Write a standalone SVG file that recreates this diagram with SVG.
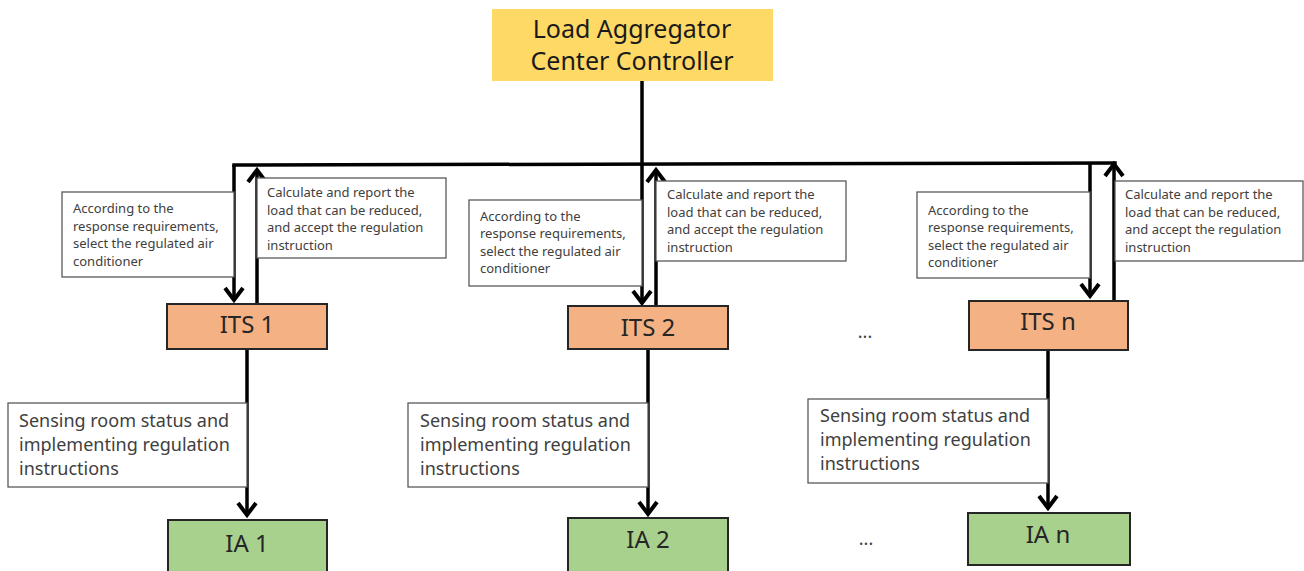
<svg xmlns="http://www.w3.org/2000/svg" width="1304" height="571" viewBox="0 0 1304 571">
<style>
.lbl{fill:#fff;stroke:#595959;stroke-width:1.3}
.its{fill:#F4B183;stroke:#262626;stroke-width:2}
.ia{fill:#A9D18E;stroke:#262626;stroke-width:2}
.st{font-family:"Noto Sans","Open Sans",sans-serif;font-size:13px;fill:#404040}
.bt{font-family:"Noto Sans","Open Sans",sans-serif;font-size:18px;fill:#404040}
.nt{font-family:"Noto Sans","Open Sans",sans-serif;font-size:24px;fill:#262626;text-anchor:middle}
.ct{font-family:"Noto Sans","Open Sans",sans-serif;font-size:25px;fill:#1a1a1a;text-anchor:middle}
.ln{fill:none;stroke:#000;stroke-width:3.5}
.ar{marker-end:url(#ah)}
</style>
<defs>
<marker id="ah" markerUnits="userSpaceOnUse" markerWidth="30" markerHeight="30" viewBox="-20 -15 30 30" refX="0" refY="0" orient="auto">
<path d="M -12 -9 L 0 0 L -12 9" fill="none" stroke="#000" stroke-width="4"/>
</marker>
</defs>
<rect width="1304" height="571" fill="#fff"/>

<g id="controller">
<rect x="492" y="9" width="281" height="72" fill="#FFD966"/>
<text class="ct" x="632" y="38">Load Aggregator</text>
<text class="ct" x="632" y="70">Center Controller</text>
</g>

<g id="connectors">
<path class="ln" d="M 234 165 L 1115 163" stroke-linecap="square"/>
<path class="ln" d="M 642 81 V 165"/>
<path class="ln ar" d="M 234 165 V 300"/>
<path class="ln ar" d="M 642 165 V 303"/>
<path class="ln ar" d="M 1090 163.5 V 296"/>
<path class="ln ar" d="M 257 304 V 170"/>
<path class="ln ar" d="M 656 307 V 170"/>
<path class="ln ar" d="M 1114 301 V 164"/>
<path class="ln ar" d="M 247 349 V 515"/>
<path class="ln ar" d="M 648 349 V 514"/>
<path class="ln ar" d="M 1048 350 V 508"/>
</g>

<g id="label-select-1">
<rect class="lbl" x="62" y="192" width="172" height="85"/>
<text class="st" x="73" y="213">According to the</text>
<text class="st" x="73" y="230.5">response requirements,</text>
<text class="st" x="73" y="248">select the regulated air</text>
<text class="st" x="73" y="265.5">conditioner</text>
</g>
<g id="label-report-1">
<rect class="lbl" x="257" y="178" width="189" height="80"/>
<text class="st" x="267" y="197">Calculate and report the</text>
<text class="st" x="267" y="214.5">load that can be reduced,</text>
<text class="st" x="267" y="232">and accept the regulation</text>
<text class="st" x="267" y="249.5">instruction</text>
</g>
<g id="label-select-2">
<rect class="lbl" x="469" y="200" width="173" height="86"/>
<text class="st" x="480" y="220.5">According to the</text>
<text class="st" x="480" y="238">response requirements,</text>
<text class="st" x="480" y="255.5">select the regulated air</text>
<text class="st" x="480" y="273">conditioner</text>
</g>
<g id="label-report-2">
<rect class="lbl" x="656" y="181" width="190" height="80"/>
<text class="st" x="667" y="199">Calculate and report the</text>
<text class="st" x="667" y="216.5">load that can be reduced,</text>
<text class="st" x="667" y="234">and accept the regulation</text>
<text class="st" x="667" y="251.5">instruction</text>
</g>
<g id="label-select-n">
<rect class="lbl" x="917" y="192" width="173" height="86"/>
<text class="st" x="928" y="214.5">According to the</text>
<text class="st" x="928" y="232">response requirements,</text>
<text class="st" x="928" y="249.5">select the regulated air</text>
<text class="st" x="928" y="267">conditioner</text>
</g>
<g id="label-report-n">
<rect class="lbl" x="1115" y="181" width="188" height="80"/>
<text class="st" x="1125" y="199">Calculate and report the</text>
<text class="st" x="1125" y="216.5">load that can be reduced,</text>
<text class="st" x="1125" y="234">and accept the regulation</text>
<text class="st" x="1125" y="251.5">instruction</text>
</g>

<g id="its-1">
<rect class="its" x="167" y="304" width="160" height="45"/>
<text class="nt" x="247" y="333">ITS 1</text>
</g>
<g id="its-2">
<rect class="its" x="568" y="306" width="160" height="43"/>
<text class="nt" x="648" y="336">ITS 2</text>
</g>
<g id="its-n">
<rect class="its" x="969" y="301" width="159" height="49"/>
<text class="nt" x="1048" y="330">ITS n</text>
</g>
<g id="ellipsis-its">
<text class="bt" x="865" y="338" text-anchor="middle" fill="#262626">...</text>
</g>

<g id="label-sense-1">
<rect class="lbl" x="8" y="403" width="239" height="84"/>
<text class="bt" x="19" y="427">Sensing room status and</text>
<text class="bt" x="19" y="451">implementing regulation</text>
<text class="bt" x="19" y="475">instructions</text>
</g>
<g id="label-sense-2">
<rect class="lbl" x="408" y="403" width="240" height="84"/>
<text class="bt" x="420" y="427">Sensing room status and</text>
<text class="bt" x="420" y="451">implementing regulation</text>
<text class="bt" x="420" y="475">instructions</text>
</g>
<g id="label-sense-n">
<rect class="lbl" x="808" y="399" width="240" height="84"/>
<text class="bt" x="820" y="422">Sensing room status and</text>
<text class="bt" x="820" y="446">implementing regulation</text>
<text class="bt" x="820" y="470">instructions</text>
</g>

<g id="ia-1">
<rect class="ia" x="168" y="520" width="159" height="60"/>
<text class="nt" x="247" y="552">IA 1</text>
</g>
<g id="ia-2">
<rect class="ia" x="568" y="518" width="160" height="60"/>
<text class="nt" x="648" y="548">IA 2</text>
</g>
<g id="ia-n">
<rect class="ia" x="968" y="513" width="162" height="52"/>
<text class="nt" x="1048" y="543">IA n</text>
</g>
<g id="ellipsis-ia">
<text class="bt" x="866" y="545" text-anchor="middle" fill="#262626">...</text>
</g>
</svg>
